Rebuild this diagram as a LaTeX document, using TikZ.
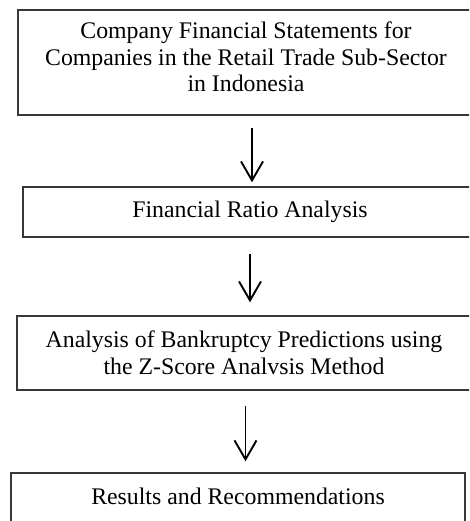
\documentclass[tikz,border=0pt]{standalone}
\usepackage{fontspec}
\setmainfont{Liberation Serif}
\usetikzlibrary{arrows.meta}
\begin{document}
\begin{tikzpicture}[x=1pt,y=1pt,
  stagebox/.style={draw=black!78, line width=1.4pt, rectangle, inner sep=0pt,
    align=center, font=\fontsize{23.8}{26.6}\selectfont},
  oneline/.style={text height=16.7pt, text depth=#1},
  flowarrow/.style={draw=black, line width=1.9pt,
    -{Straight Barb[length=19pt,width=22pt]}}]
\clip (0,0) rectangle (469,521);
\fill[white] (0,0) rectangle (469,521);
\node[stagebox, minimum width=456pt, minimum height=105pt] (box1) at (246,458.5)
  {Company Financial Statements for\\Companies in the Retail Trade Sub-Sector\\in Indonesia\rule[-11.4pt]{0pt}{0pt}};
\node[stagebox, oneline=6pt, minimum width=454pt, minimum height=50pt] (box2) at (250,309)
  {Financial Ratio Analysis};
\node[stagebox, minimum width=454pt, minimum height=74pt] (box3) at (244,168)
  {Analysis of Bankruptcy Predictions using\\the Z-Score Analvsis Method};
\node[stagebox, oneline=5.2pt, minimum width=454pt, minimum height=52pt] (box4) at (238,22)
  {Results and Recommendations};
\draw[flowarrow] ([xshift=6pt,yshift=-12pt]box1.south) -- ([xshift=2pt,yshift=4pt]box2.north);
\draw[flowarrow] ([xshift=0pt,yshift=-16pt]box2.south) -- ([xshift=6pt,yshift=13pt]box3.north);
\draw[flowarrow] ([xshift=1.5pt,yshift=-15pt]box3.south) -- ([xshift=7.5pt,yshift=11pt]box4.north);
\end{tikzpicture}
\end{document}
